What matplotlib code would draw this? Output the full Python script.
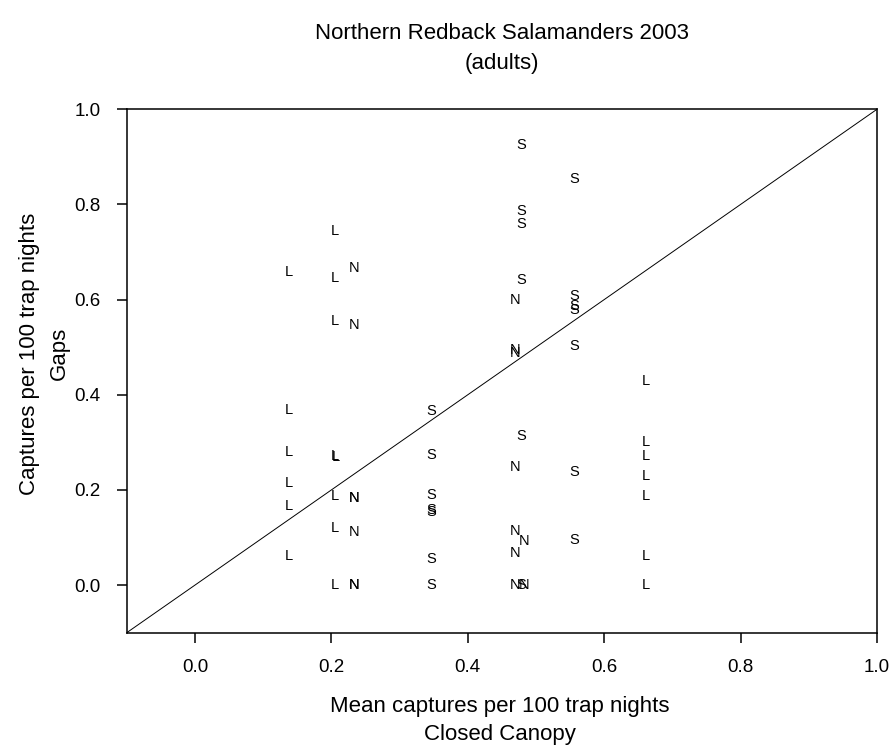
import numpy as np
import matplotlib
matplotlib.use('Agg')
import matplotlib.pyplot as plt

plt.rcParams['font.family'] = ['Liberation Sans', 'DejaVu Sans']

# datos (L, N, S)
L_x = [0.137, 0.137, 0.137, 0.137, 0.137, 0.137,
       0.205, 0.205, 0.205, 0.205, 0.207, 0.205, 0.205, 0.205,
       0.661, 0.661, 0.661, 0.661, 0.661, 0.661, 0.661]
L_y = [0.657, 0.369, 0.280, 0.215, 0.167, 0.061,
       0.744, 0.645, 0.556, 0.271, 0.270, 0.187, 0.120, 0.0,
       0.428, 0.300, 0.271, 0.229, 0.187, 0.061, 0.0]

N_x = [0.233, 0.233, 0.233, 0.234, 0.233, 0.233, 0.234,
       0.470, 0.470, 0.470, 0.470, 0.470, 0.482, 0.470, 0.470, 0.482]
N_y = [0.667, 0.546, 0.183, 0.183, 0.111, 0.0, 0.0,
       0.600, 0.495, 0.487, 0.249, 0.113, 0.092, 0.068, 0.0, 0.0]

S_x = [0.346, 0.346, 0.346, 0.346, 0.346, 0.346, 0.346,
       0.478, 0.478, 0.478, 0.478, 0.478, 0.478,
       0.556, 0.556, 0.556, 0.556, 0.556, 0.556, 0.556]
S_y = [0.365, 0.273, 0.189, 0.157, 0.153, 0.055, 0.0,
       0.925, 0.787, 0.759, 0.642, 0.314, 0.0,
       0.853, 0.607, 0.586, 0.578, 0.502, 0.238, 0.095]

ticks = [0.0, 0.2, 0.4, 0.6, 0.8, 1.0]

fig = plt.figure(figsize=(8.96, 7.52), dpi=100)
ax = fig.add_axes([0.1414, 0.1586, 0.8374, 0.6961])

# linea 1:1
ax.plot([-0.1, 1.0], [-0.1, 1.0], color='black', linewidth=0.7)

for xs, ys, letra in [(L_x, L_y, 'L'), (N_x, N_y, 'N'), (S_x, S_y, 'S')]:
    for x, y in zip(xs, ys):
        ax.text(x, y, letra, ha='center', va='center', fontsize=10.5)

ax.set_xlim(-0.1, 1.0)
ax.set_ylim(-0.1, 1.0)
ax.set_xticks(ticks)
ax.set_yticks(ticks)
ax.set_xticklabels(['%.1f' % t for t in ticks])
ax.set_yticklabels(['%.1f' % t for t in ticks])
ax.tick_params(direction='out', length=7, width=1.1, labelsize=13.5, pad=12)
for s in ax.spines.values():
    s.set_linewidth(1.1)

fig.text(0.56, 0.955, 'Northern Redback Salamanders 2003', ha='center', va='center', fontsize=16)
fig.text(0.56, 0.915, '(adults)', ha='center', va='center', fontsize=16)

fig.text(0.558, 0.06, 'Mean captures per 100 trap nights', ha='center', va='center', fontsize=16)
fig.text(0.558, 0.023, 'Closed Canopy', ha='center', va='center', fontsize=16)

fig.text(0.033, 0.53, 'Captures per 100 trap nights', rotation=90, ha='center', va='center', fontsize=16)
fig.text(0.066, 0.53, 'Gaps', rotation=90, ha='center', va='center', fontsize=16)

plt.savefig('out.png', dpi=100)
